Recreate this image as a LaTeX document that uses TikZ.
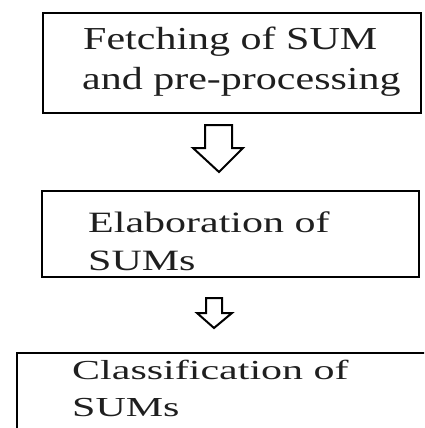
\documentclass[tikz,border=0pt]{standalone}
\usepackage{fontspec}
\usetikzlibrary{fit}
\setmainfont{Liberation Serif}
% wide, slightly flattened serif lettering
\newcommand{\widetext}[2]{\scalebox{4.2}[#1]{\fontsize{10}{12}\selectfont #2}}
\begin{document}
\begin{tikzpicture}[x=1pt,y=-1pt,
  stagebox/.style={draw=black,line width=2.2pt,rectangle,inner sep=0pt},
  label/.style={anchor=base west,inner sep=0pt,text=black!88},
  flowarrow/.style={draw=black,line width=2pt,fill=white,line join=miter}]
  \useasboundingbox (0,0) rectangle (424,428);
  \clip (0,0) rectangle (424,428);
  % corners of the stage boxes
  \coordinate (c1a) at (43,13);  \coordinate (c1b) at (421,113);
  \coordinate (c2a) at (42,191); \coordinate (c2b) at (419,277);
  \coordinate (c3a) at (17,353); \coordinate (c3b) at (440,445);
  % stage boxes
  \node[stagebox,fit=(c1a)(c1b)] (b1) {};
  \node[stagebox,fit=(c2a)(c2b)] (b2) {};
  \node[stagebox,fit=(c3a)(c3b)] (b3) {};
  % stage texts
  \node[label] (t1a) at (83,50) {\widetext{3.2}{Fetching of SUM}};
  \node[label] (t1b) at (82,89) {\widetext{3.2}{and pre-processing}};
  \node[label] (t2a) at (88,232) {\widetext{2.95}{Elaboration of}};
  \node[label] (t2b) at (88,270) {\widetext{2.95}{SUMs}};
  \node[label] (t3a) at (72,379) {\widetext{2.75}{Classification of}};
  \node[label] (t3b) at (72,416) {\widetext{2.75}{SUMs}};
  % hollow block arrows between stages
  \draw[flowarrow] (205,125) -- (232,125) -- (232,148) -- (243,148) -- (219,172)
    -- (193,148) -- (205,148) -- cycle;
  \draw[flowarrow] (206,298) -- (222,298) -- (222,313) -- (232,313) -- (214,328)
    -- (197,313) -- (206,313) -- cycle;
\end{tikzpicture}
\end{document}
